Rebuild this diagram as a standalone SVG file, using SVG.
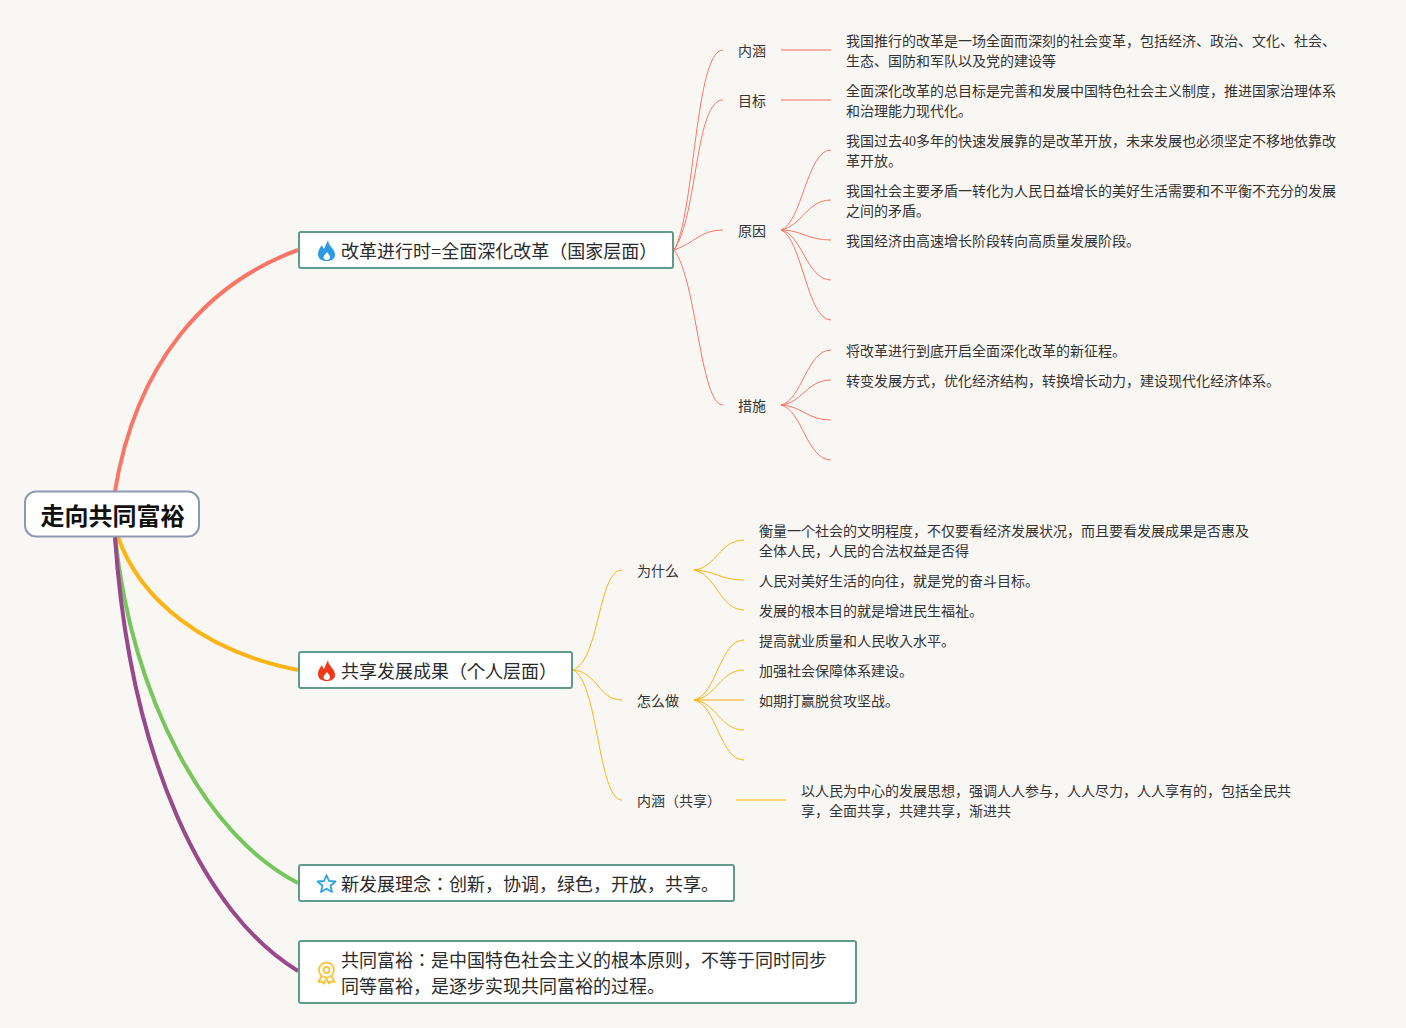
<svg xmlns="http://www.w3.org/2000/svg" width="1406" height="1028" viewBox="0 0 1406 1028">
<style>
text{font-family:"Liberation Serif","Noto Sans CJK JP","Noto Sans",serif;fill:#333}
.r{font-size:24px;font-weight:700;fill:#111;text-anchor:middle}
.m{font-size:18px;fill:#2b2b2b}
.s{font-size:14px}
.box{fill:#fff;stroke:#5f9a8b;stroke-width:2}
.c{fill:none}
.w{stroke-width:4}
.t{stroke-width:1}
.h{stroke-width:1.5;stroke-opacity:.7}
.red{stroke:#fa7565}
.yel{stroke:#fdb414}
.grn{stroke:#77c65c}
.pur{stroke:#98498c}
</style>
<rect width="1406" height="1028" fill="#f9f7f3"/>
<g id="connectors" class="c">
<path class="red w" d="M115 491C136 364 205 284 298 250"/>
<path class="yel w" d="M118 537C140 600 205 652 298 670"/>
<path class="grn w" d="M115 537C133 700 205 835 298 883"/>
<path class="pur w" d="M115 537C130 760 205 915 298 971"/>
<g class="red t">
<path d="M674 250C695 215 695 50 723 50"/>
<path d="M674 250C698 215 695 100 723 100"/>
<path d="M674 250C695 243 700 230 723 230"/>
<path d="M674 250C697 280 700 405 723 405"/>
<path d="M781 230C802 223 807 150 831 150"/>
<path d="M781 230C802 226 807 200 831 200"/>
<path d="M781 230C802 230 807 240 831 240"/>
<path d="M781 230C802 234 807 280 831 280"/>
<path d="M781 230C802 238 807 320 831 320"/>
<path d="M781 405C802 400 807 350 831 350"/>
<path d="M781 405C802 403 807 380 831 380"/>
<path d="M781 405C802 406 807 420 831 420"/>
<path d="M781 405C802 410 807 460 831 460"/>
</g>
<path class="red h" d="M781 50H831M781 100H831"/>
<g class="yel t">
<path d="M573 670C600 660 598 570 622 570"/>
<path d="M573 670C598 672 598 700 622 700"/>
<path d="M573 670C598 680 598 800 622 800"/>
<path d="M694 570C716 568 720 540 744 540"/>
<path d="M694 570C716 571 720 580 744 580"/>
<path d="M694 570C716 574 720 610 744 610"/>
<path d="M694 700C716 696 720 640 744 640"/>
<path d="M694 700C716 698 720 670 744 670"/>
<path d="M694 700C716 702 720 730 744 730"/>
<path d="M694 700C716 704 720 760 744 760"/>
</g>
<path class="yel h" d="M694 700H744M736 800H786"/>
</g>
<g id="root"><rect x="25" y="491.500" width="174" height="45" rx="11" fill="#fff" stroke="#9097b2" stroke-width="2"/><text class="r" x="112.500" y="525">走向共同富裕</text></g>
<g id="n1"><rect class="box" x="299" y="232" width="374" height="36" rx="2"/>
<path fill="#2d9ae6" fill-rule="evenodd" d="M328 240C328.500 244 330 245 332 248C334 250.500 335 252.500 335 255C335 259 331 261 326.500 261C322 261 318 259 318 254C318 250 320 248 322 245C322.500 247 323 248 324 249C325.500 246 326.500 243 328 240ZM327 252C326 254 323.500 255 323.500 257.500C323.500 259 325 260 326.800 260C328.800 260 330 258.800 330 257.300C330 255 328 254 327 252Z"/>
<text class="m" x="341" y="258">改革进行时=全面深化改革（国家层面）</text></g>
<g id="n1a"><text class="s" x="738" y="56">内涵</text></g>
<g id="n1a1"><text class="s" x="846" y="46">我国推行的改革是一场全面而深刻的社会变革，包括经济、政治、文化、社会、</text><text class="s" x="846" y="66">生态、国防和军队以及党的建设等</text></g>
<g id="n1b"><text class="s" x="738" y="106">目标</text></g>
<g id="n1b1"><text class="s" x="846" y="96">全面深化改革的总目标是完善和发展中国特色社会主义制度，推进国家治理体系</text><text class="s" x="846" y="116">和治理能力现代化。</text></g>
<g id="n1c"><text class="s" x="738" y="236">原因</text></g>
<g id="n1c1"><text class="s" x="846" y="146">我国过去40多年的快速发展靠的是改革开放，未来发展也必须坚定不移地依靠改</text><text class="s" x="846" y="166">革开放。</text></g>
<g id="n1c2"><text class="s" x="846" y="196">我国社会主要矛盾一转化为人民日益增长的美好生活需要和不平衡不充分的发展</text><text class="s" x="846" y="216">之间的矛盾。</text></g>
<g id="n1c3"><text class="s" x="846" y="246">我国经济由高速增长阶段转向高质量发展阶段。</text></g>
<g id="n1d"><text class="s" x="738" y="411">措施</text></g>
<g id="n1d1"><text class="s" x="846" y="356">将改革进行到底开启全面深化改革的新征程。</text></g>
<g id="n1d2"><text class="s" x="846" y="386">转变发展方式，优化经济结构，转换增长动力，建设现代化经济体系。</text></g>
<g id="n2"><rect class="box" x="299" y="652" width="273" height="36" rx="2"/>
<path fill="#f0391b" fill-rule="evenodd" d="M328 660C328.500 664 330 665 332 668C334 670.500 335 672.500 335 675C335 679 331 681 326.500 681C322 681 318 679 318 674C318 670 320 668 322 665C322.500 667 323 668 324 669C325.500 666 326.500 663 328 660ZM327 672C326 674 323.500 675 323.500 677.500C323.500 679 325 680 326.800 680C328.800 680 330 678.800 330 677.300C330 675 328 674 327 672Z"/>
<text class="m" x="341" y="678">共享发展成果（个人层面）</text></g>
<g id="n2a"><text class="s" x="637" y="576">为什么</text></g>
<g id="n2a1"><text class="s" x="759" y="536">衡量一个社会的文明程度，不仅要看经济发展状况，而且要看发展成果是否惠及</text><text class="s" x="759" y="556">全体人民，人民的合法权益是否得</text></g>
<g id="n2a2"><text class="s" x="759" y="586">人民对美好生活的向往，就是党的奋斗目标。</text></g>
<g id="n2a3"><text class="s" x="759" y="616">发展的根本目的就是增进民生福祉。</text></g>
<g id="n2b"><text class="s" x="637" y="706">怎么做</text></g>
<g id="n2b1"><text class="s" x="759" y="646">提高就业质量和人民收入水平。</text></g>
<g id="n2b2"><text class="s" x="759" y="676">加强社会保障体系建设。</text></g>
<g id="n2b3"><text class="s" x="759" y="706">如期打赢脱贫攻坚战。</text></g>
<g id="n2c"><text class="s" x="637" y="806">内涵（共享）</text></g>
<g id="n2c1"><text class="s" x="801" y="796">以人民为中心的发展思想，强调人人参与，人人尽力，人人享有的，包括全民共</text><text class="s" x="801" y="816">享，全面共享，共建共享，渐进共</text></g>
<g id="n3"><rect class="box" x="299" y="865" width="435" height="36" rx="2"/>
<path fill="none" stroke="#2fa3e6" stroke-width="1.800" stroke-linejoin="round" d="M326.500 875L329 881L335.500 881.500L330.500 885.800L332 892L326.500 888.800L321 892L322.500 885.800L317.500 881.500L324 881Z"/>
<text class="m" x="341" y="891">新发展理念：创新，协调，绿色，开放，共享。</text></g>
<g id="n4"><rect class="box" x="299" y="941" width="557" height="62" rx="2"/>
<g fill="none" stroke="#fcc33c" stroke-width="1.800" stroke-linejoin="round"><circle cx="326.500" cy="970" r="7.500"/><circle cx="326.500" cy="970" r="3"/><path d="M321.500 976L318.500 982L322 981.500L324 983.500L326.500 978.500L329 983.500L331 981.500L334.500 982L331.500 976"/></g>
<text class="m" x="341" y="967">共同富裕：是中国特色社会主义的根本原则，不等于同时同步</text><text class="m" x="341" y="993">同等富裕，是逐步实现共同富裕的过程。</text></g>
</svg>
